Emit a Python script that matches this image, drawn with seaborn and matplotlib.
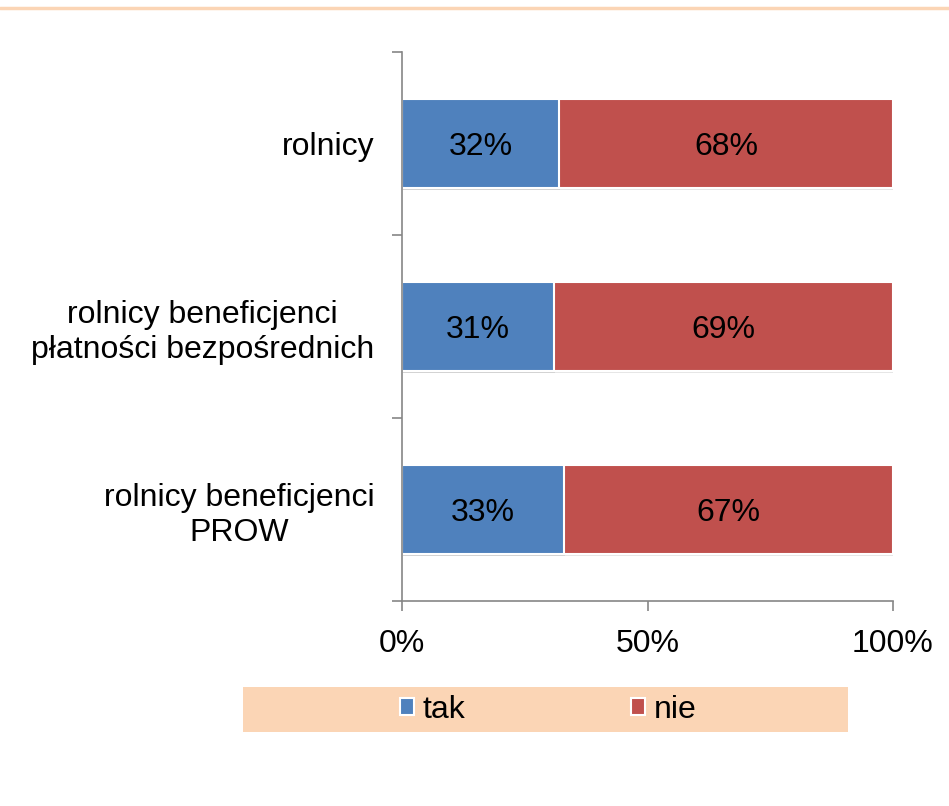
import matplotlib
matplotlib.use('Agg')
import pandas as pd
import matplotlib.pyplot as plt
import seaborn as sns
from matplotlib.patches import Patch, Rectangle
from matplotlib.lines import Line2D
from matplotlib import patheffects as pe

# %%
categories = ['rolnicy',
              'rolnicy beneficjenci\npłatności bezpośrednich',
              'rolnicy beneficjenci\nPROW']
tak = [32, 31, 33]
nie = [68, 69, 67]
series_names = ['tak', 'nie']
xtick_labels = ['0%', '50%', '100%']

blue = '#4F81BD'
red = '#C0504D'
peach = '#FBD5B5'
grey = '#868686'

df = pd.DataFrame({'kategoria': categories, 'tak': tak, 'nie': nie})
df['suma'] = df['tak'] + df['nie']

# %%
sns.set_style('white')
plt.rcParams['font.family'] = ['Liberation Sans', 'DejaVu Sans']
plt.rcParams['text.color'] = 'black'
plt.rcParams['xtick.labelcolor'] = 'black'
plt.rcParams['ytick.labelcolor'] = 'black'

fig = plt.figure(figsize=(9.49, 8.06), dpi=100)
ax = fig.add_axes([402 / 949, 1 - 601 / 806, 491 / 949, 549 / 806])

shadow = [pe.SimplePatchShadow(offset=(0.5, -1.5), shadow_rgbFace='#9a9a9a', alpha=0.25), pe.Normal()]

sns.barplot(data=df, y='kategoria', x='suma', color=red, orient='h', saturation=1,
            width=0.49, edgecolor='white', linewidth=1.5, ax=ax)
sns.barplot(data=df, y='kategoria', x='tak', color=blue, orient='h', saturation=1,
            width=0.49, edgecolor='white', linewidth=1.5, ax=ax)
for p in ax.patches:
    p.set_path_effects(shadow)

for i in range(len(categories)):
    ax.text(tak[i] / 2, i, f'{tak[i]}%', ha='center', va='center_baseline', fontsize=23)
    ax.text(tak[i] + nie[i] / 2, i, f'{nie[i]}%', ha='center', va='center_baseline', fontsize=23)

ax.set_xlim(0, 100)
ax.set_ylim(2.5, -0.5)
ax.set_xticks([0, 50, 100])
ax.set_xticklabels(xtick_labels, fontsize=23)
ax.set_yticks([-0.5, 0.5, 1.5, 2.5])
ax.set_yticklabels([])
ax.set_yticks([0, 1, 2], minor=True)
ax.set_yticklabels(categories, minor=True, fontsize=23, multialignment='center')
ax.tick_params(axis='y', which='minor', length=0, pad=20)
ax.tick_params(axis='y', which='major', length=7, width=1.2, color=grey, direction='out', left=True)
ax.tick_params(axis='x', length=7, width=1.2, color=grey, direction='out', bottom=True, pad=13)
ax.set_xlabel('')
ax.set_ylabel('')
for s in ['top', 'right']:
    ax.spines[s].set_visible(False)
for s in ['left', 'bottom']:
    ax.spines[s].set_color(grey)
    ax.spines[s].set_linewidth(1.2)

# legend band
fig.add_artist(Rectangle((243 / 949, 1 - 732 / 806), 605 / 949, 45 / 806,
                         transform=fig.transFigure, facecolor=peach, edgecolor='none', zorder=0))
fig.add_artist(Line2D([0, 1], [1 - 7.5 / 806, 1 - 7.5 / 806], transform=fig.transFigure,
                      color=peach, linewidth=2.5))

handles = [Patch(facecolor=blue, edgecolor='white', linewidth=1.5),
           Patch(facecolor=red, edgecolor='white', linewidth=1.5)]
fig.legend(handles, series_names, loc='center', bbox_to_anchor=(548 / 949, 1 - 710 / 806),
           ncol=2, frameon=False, fontsize=23, handlelength=0.45, handleheight=0.45,
           handletextpad=0.25, columnspacing=5.2)

fig.savefig('out.png', dpi=100)
